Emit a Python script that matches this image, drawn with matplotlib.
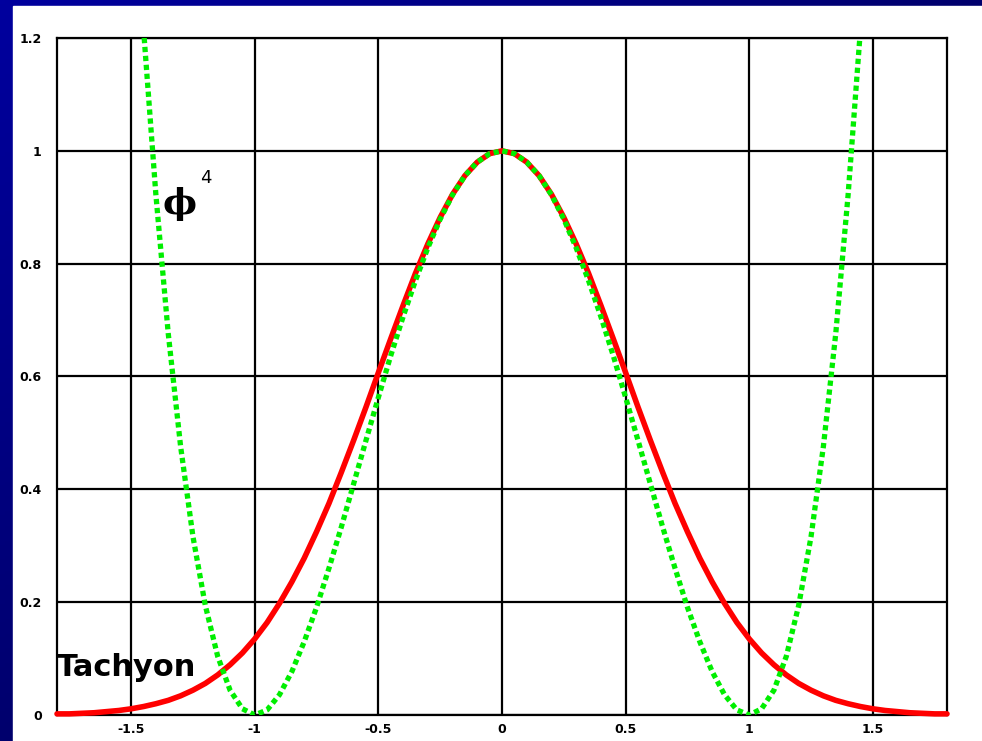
import matplotlib
matplotlib.use("Agg")
import matplotlib.pyplot as plt
import numpy as np
from matplotlib.patches import Rectangle

# values
tachyon_x = [-1.80, -1.75, -1.70, -1.65, -1.60, -1.55, -1.50, -1.45, -1.40, -1.35,
             -1.30, -1.25, -1.20, -1.15, -1.10, -1.05, -1.00, -0.95, -0.90, -0.85,
             -0.80, -0.75, -0.70, -0.65, -0.60, -0.55, -0.50, -0.45, -0.40, -0.35,
             -0.30, -0.25, -0.20, -0.15, -0.10, -0.05, 0.00,
             0.05, 0.10, 0.15, 0.20, 0.25, 0.30, 0.35, 0.40, 0.45, 0.50,
             0.55, 0.60, 0.65, 0.70, 0.75, 0.80, 0.85, 0.90, 0.95, 1.00,
             1.05, 1.10, 1.15, 1.20, 1.25, 1.30, 1.35, 1.40, 1.45, 1.50,
             1.55, 1.60, 1.65, 1.70, 1.75, 1.80]
tachyon_y = [0.002, 0.002, 0.003, 0.004, 0.006, 0.008, 0.011, 0.015, 0.020, 0.026,
             0.034, 0.044, 0.056, 0.071, 0.089, 0.110, 0.135, 0.164, 0.198, 0.236,
             0.278, 0.325, 0.375, 0.430, 0.487, 0.546, 0.607, 0.667, 0.726, 0.783,
             0.835, 0.882, 0.923, 0.956, 0.980, 0.995, 1.000,
             0.995, 0.980, 0.956, 0.923, 0.882, 0.835, 0.783, 0.726, 0.667, 0.607,
             0.546, 0.487, 0.430, 0.375, 0.325, 0.278, 0.236, 0.198, 0.164, 0.135,
             0.110, 0.089, 0.071, 0.056, 0.044, 0.034, 0.026, 0.020, 0.015, 0.011,
             0.008, 0.006, 0.004, 0.003, 0.002, 0.002]

phi4_x = [-1.45, -1.40, -1.35, -1.30, -1.25, -1.20, -1.15, -1.10, -1.05, -1.00,
          -0.95, -0.90, -0.85, -0.80, -0.75, -0.70, -0.65, -0.60, -0.55, -0.50,
          -0.45, -0.40, -0.35, -0.30, -0.25, -0.20, -0.15, -0.10, -0.05, 0.00,
          0.05, 0.10, 0.15, 0.20, 0.25, 0.30, 0.35, 0.40, 0.45, 0.50,
          0.55, 0.60, 0.65, 0.70, 0.75, 0.80, 0.85, 0.90, 0.95, 1.00,
          1.05, 1.10, 1.15, 1.20, 1.25, 1.30, 1.35, 1.40, 1.45]
phi4_y = [1.216, 0.922, 0.676, 0.476, 0.316, 0.194, 0.104, 0.044, 0.011, 0.0,
          0.009, 0.036, 0.077, 0.130, 0.191, 0.260, 0.333, 0.410, 0.487, 0.563,
          0.637, 0.706, 0.770, 0.828, 0.879, 0.922, 0.956, 0.980, 0.995, 1.0,
          0.995, 0.980, 0.956, 0.922, 0.879, 0.828, 0.770, 0.706, 0.637, 0.563,
          0.487, 0.410, 0.333, 0.260, 0.191, 0.130, 0.077, 0.036, 0.009, 0.0,
          0.011, 0.044, 0.104, 0.194, 0.316, 0.476, 0.676, 0.922, 1.216]

x_ticks = [-1.5, -1, -0.5, 0, 0.5, 1, 1.5]
x_labels = ["-1.5", "-1", "-0.5", "0", "0.5", "1", "1.5"]
y_ticks = [0, 0.2, 0.4, 0.6, 0.8, 1, 1.2]
y_labels = ["0", "0.2", "0.4", "0.6", "0.8", "1", "1.2"]


def main() -> None:
    W, H = 982, 741
    fig = plt.figure(figsize=(W / 100, H / 100), dpi=100)

    # blue slide background with a diagonal gradient
    bg = fig.add_axes([0, 0, 1, 1])
    u = np.linspace(0, 1, 200)
    gx, gy = np.meshgrid(u, u)
    t = np.clip(0.6 * gx + 0.6 * gy, 0, 1)
    c0 = np.array([0.0, 0.0, 0.62])
    c1 = np.array([0.0, 0.0, 0.30])
    img = c0[None, None, :] * (1 - t[..., None]) + c1[None, None, :] * t[..., None]
    bg.imshow(img, extent=[0, 1, 0, 1], aspect="auto", origin="upper")
    bg.add_patch(Rectangle((13 / W, 0), 1, 1 - 6 / H, color="white"))
    bg.set_xlim(0, 1)
    bg.set_ylim(0, 1)
    bg.axis("off")

    # plot area in pixels: x 57..947, y 38..715
    ax = fig.add_axes([57 / W, 1 - 715 / H, 890 / W, 677 / H])
    ax.set_facecolor("white")
    ax.plot(tachyon_x, tachyon_y, color="#FF0000", linewidth=4.0,
            solid_capstyle="round", solid_joinstyle="round", zorder=3, clip_on=False)
    ax.plot(phi4_x, phi4_y, color="#00EE00", linewidth=3.8,
            linestyle=(0, (1.0, 0.7)), dash_capstyle="butt", zorder=4)

    ax.set_xlim(-1.8, 1.8)
    ax.set_ylim(0, 1.2)
    ax.set_xticks(x_ticks)
    ax.set_xticklabels(x_labels)
    ax.set_yticks(y_ticks)
    ax.set_yticklabels(y_labels)
    ax.tick_params(length=0, labelsize=9)
    ax.tick_params(axis="y", pad=11)
    ax.tick_params(axis="x", pad=6)
    for lab in ax.get_xticklabels() + ax.get_yticklabels():
        lab.set_fontweight("bold")
    ax.grid(True, color="black", linewidth=1.6)
    for sp in ax.spines.values():
        sp.set_linewidth(1.6)
        sp.set_color("black")

    ax.text(-1.8, 0.085, "Tachyon", fontsize=22, fontweight="bold",
            family="DejaVu Sans", ha="left", va="center", zorder=2)
    ax.text(-1.306, 0.905, "\u03d5", fontsize=26, fontweight="bold",
            family="DejaVu Serif", ha="center", va="center", zorder=2)
    ax.text(-1.22, 0.952, "4", fontsize=13, family="DejaVu Sans",
            ha="left", va="center", zorder=2)

    fig.savefig("out.png", dpi=100)
    plt.close(fig)


if __name__ == "__main__":
    main()
